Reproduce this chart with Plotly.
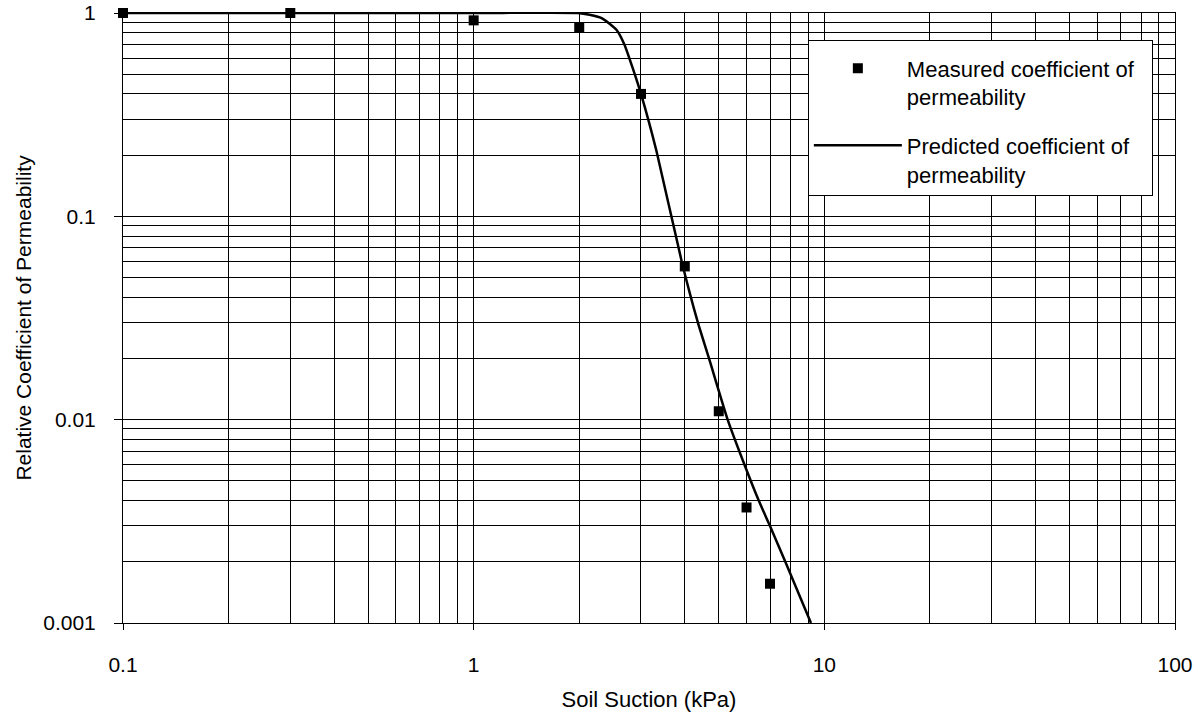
import plotly.graph_objects as go

# Measured data
meas_x = [0.1, 0.3, 1.0, 2.0, 3.0, 4.0, 5.0, 6.0, 7.0]
meas_y = [1.0, 1.0, 0.92, 0.85, 0.40, 0.0567, 0.011, 0.0037, 0.00156]

# Predicted curve
pred_x = [0.1, 1.0, 1.98, 2.14, 2.33, 2.55, 2.69, 2.84, 3.0, 3.32, 3.92, 4.36, 4.69, 5.3, 5.92, 6.5, 7.0, 7.74, 9.16]
pred_y = [1.0, 1.0, 1.0, 0.98, 0.939, 0.829, 0.70, 0.537, 0.40, 0.21, 0.06, 0.03, 0.02, 0.01, 0.006, 0.004, 0.003, 0.002, 0.001]

x_major = [0.1, 1, 10, 100]
x_major_text = ["0.1", "1", "10", "100"]
y_major = [0.001, 0.01, 0.1, 1]
y_major_text = ["0.001", "0.01", "0.1", "1"]

x_minor = [k * d for d in (0.1, 1, 10) for k in range(2, 10)]
y_minor = [k * d for d in (0.001, 0.01, 0.1) for k in range(2, 10)]

FONT = "Liberation Sans, Arial, Helvetica, sans-serif"
NB = "\u00a0"

fig = go.Figure()
fig.add_trace(go.Scatter(
    x=meas_x, y=meas_y, mode="markers",
    marker=dict(symbol="square", size=10, color="black"),
    name="Measured coefficient of" + NB * 2 + "<br>permeability",
    legendgroup="a", cliponaxis=False,
))
fig.add_trace(go.Scatter(
    x=pred_x, y=pred_y, mode="lines",
    line=dict(color="black", width=2.5, shape="spline", smoothing=0.5),
    name="Predicted coefficient of<br>permeability",
    legendgroup="b",
))

fig.update_layout(
    width=1202, height=713,
    margin=dict(l=123, r=27, t=13, b=90, autoexpand=False),
    paper_bgcolor="white", plot_bgcolor="white",
    font=dict(family=FONT, size=21, color="black"),
    showlegend=True,
    legend=dict(
        x=0.651, y=0.956, xanchor="left", yanchor="top",
        bgcolor="white", bordercolor="black", borderwidth=1,
        font=dict(family=FONT, size=22, color="black"),
        valign="top", traceorder="grouped", tracegroupgap=17,
        itemwidth=88,
        title=dict(text=" ", font=dict(size=5)),
    ),
    xaxis=dict(
        type="log", range=[-1, 2], automargin=False,
        tickmode="array", tickvals=x_major, ticktext=x_major_text,
        ticks="outside", ticklen=6, tickcolor="black",
        showline=True, linecolor="black", linewidth=1, mirror=True,
        showgrid=True, gridcolor="black", gridwidth=1,
        minor=dict(tickmode="array", tickvals=x_minor, showgrid=True,
                   gridcolor="black", gridwidth=1, ticks=""),
        tickfont=dict(size=21),
        ticklabelstandoff=17, ticklabeloverflow="allow",
        title=dict(text="Soil Suction (kPa)", font=dict(size=22), standoff=16),
        zeroline=False,
    ),
    yaxis=dict(
        type="log", range=[-3, 0], automargin=False,
        tickmode="array", tickvals=y_major, ticktext=y_major_text,
        ticks="outside", ticklen=8, tickcolor="black",
        showline=True, linecolor="black", linewidth=1, mirror=True,
        showgrid=True, gridcolor="black", gridwidth=1,
        minor=dict(tickmode="array", tickvals=y_minor, showgrid=True,
                   gridcolor="black", gridwidth=1, ticks=""),
        tickfont=dict(size=21),
        ticklabelstandoff=14, ticklabeloverflow="allow",
        title=dict(text="Relative Coefficient of Permeability", font=dict(size=21), standoff=5),
        zeroline=False,
    ),
)

# remove the page's default body margin so the figure fills the window exactly
fig.write_html(
    "out.html",
    config={"displayModeBar": False},
    post_script="document.body.style.margin='0';",
)
